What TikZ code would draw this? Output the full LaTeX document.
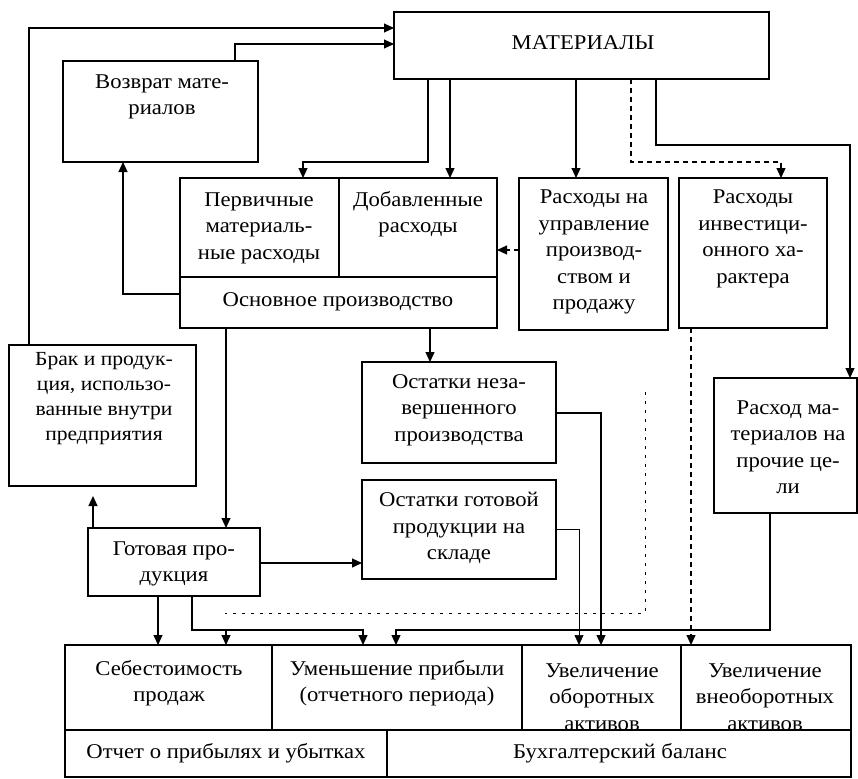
\documentclass[tikz,border=0pt]{standalone}
\usepackage{fontspec}
\setmainfont[FakeStretch=1.08]{Liberation Serif}
\usetikzlibrary{arrows.meta}
\begin{document}
\begin{tikzpicture}[x=1pt,y=-1pt,
  box/.style={draw, line width=1.2pt, rectangle, inner sep=0pt, outer sep=0pt, anchor=north west},
  txt/.style={align=center, font=\fontsize{21}{26.5}\selectfont, inner sep=0pt},
  small txt/.style={txt, font=\fontsize{20}{25}\selectfont},
  ln/.style={line width=1.2pt},
  arr/.style={ln, -{Triangle[length=10pt,width=9pt]}},
  dsh/.style={arr, dash pattern=on 5pt off 4pt},
  thin arr/.style={line width=0.7pt, -{Triangle[length=10pt,width=9pt]}},
  faint/.style={line width=0.6pt, dash pattern=on 3pt off 6pt},
]
\useasboundingbox (0,0) rectangle (858,778);
% boxes
\node[box, minimum width=375pt, minimum height=67pt] (mat) at (394,12) {};
\node[box, minimum width=195pt, minimum height=101pt] (vozv) at (63,61) {};
\node[box, minimum width=159pt, minimum height=99pt] (perv) at (180,178) {};
\node[box, minimum width=158pt, minimum height=99pt] (dob) at (339,178) {};
\node[box, minimum width=317pt, minimum height=51pt] (osn) at (180,277) {};
\node[box, minimum width=149pt, minimum height=152pt] (upr) at (519,178) {};
\node[box, minimum width=148pt, minimum height=150pt] (inv) at (679,178) {};
\node[box, minimum width=187pt, minimum height=141pt] (brak) at (9,345) {};
\node[box, minimum width=194pt, minimum height=101pt] (ostn) at (362,362) {};
\node[box, minimum width=194pt, minimum height=99pt] (ostg) at (362,480) {};
\node[box, minimum width=172pt, minimum height=68pt] (got) at (88,528) {};
\node[box, minimum width=143pt, minimum height=135pt] (proch) at (714,378) {};
\node[box, minimum width=207pt, minimum height=85pt] (seb) at (65,645) {};
\node[box, minimum width=250pt, minimum height=85pt] (umen) at (272,645) {};
\node[box, minimum width=159pt, minimum height=85pt] (uvob) at (522,645) {};
\node[box, minimum width=170pt, minimum height=85pt] (uvvn) at (681,645) {};
\node[box, minimum width=322pt, minimum height=47pt] (otch) at (65,730) {};
\node[box, minimum width=464pt, minimum height=47pt] (buh) at (387,730) {};
% texts
\node[txt] (t-mat) at (583,43) {МАТЕРИАЛЫ};
\node[txt] (t-vozv) at (162,97) {Возврат мате-\\риалов};
\node[txt] (t-perv) at (259,228) {Первичные\\материаль-\\ные расходы};
\node[txt] (t-dob) at (418,214) {Добавленные\\расходы};
\node[txt] (t-osn) at (338,302) {Основное производство};
\node[txt] (t-upr) at (594,252) {Расходы на\\управление\\производ-\\ством и\\продажу};
\node[txt] (t-inv) at (753,239) {Расходы\\инвестици-\\онного ха-\\рактера};
\node[small txt] (t-brak) at (104,399) {Брак и продук-\\ция, использо-\\ванные внутри\\предприятия};
\node[txt] (t-ostn) at (459,410) {Остатки неза-\\вершенного\\производства};
\node[txt] (t-ostg) at (459,528) {Остатки готовой\\продукции на\\складе};
\node[txt] (t-got) at (174,564) {Готовая про-\\дукция};
\node[txt] (t-proch) at (788,447) {Расход ма-\\териалов на\\прочие це-\\ли};
\node[txt] (t-seb) at (169,683) {Себестоимость\\продаж};
\node[txt] (t-umen) at (397,683) {Уменьшение прибыли\\(отчетного периода)};
\node[txt] (t-uvob) at (602,697) {Увеличение\\оборотных\\активов};
\node[txt] (t-uvvn) at (765,697) {Увеличение\\внеоборотных\\активов};
\node[txt] (t-otch) at (226,753) {Отчет о прибылях и убытках};
\node[txt] (t-buh) at (620,753) {Бухгалтерский баланс};
% junction / free points
\coordinate (j1) at (226,630);
\coordinate (f1) at (645,392);
\coordinate (f2) at (645,613);
\coordinate (f3) at (225,613);
% connectors
\draw[arr] (29,0 |- brak.north) |- (mat.west |- 0,28);
\draw[arr] (235,0 |- vozv.north) |- (mat.west |- 0,44);
\draw[arr] (osn.west |- 0,294) -| (123,0 |- vozv.south);
\draw[arr] (428,0 |- mat.south) -- (428,162) -| (303,0 |- perv.north);
\draw[arr] (450,0 |- mat.south) -- (450,0 |- dob.north);
\draw[arr] (576,0 |- mat.south) -- (576,0 |- upr.north);
\draw[dsh] (631,0 |- mat.south) -- (631,162) -| (781,0 |- inv.north);
\draw[arr] (656,0 |- mat.south) -- (656,145) -| (850,0 |- proch.north);
\draw[dsh] (upr.west |- 0,250) -- (dob.east |- 0,250);
\draw[arr] (430,0 |- osn.south) -- (430,0 |- ostn.north);
\draw[arr] (226,0 |- osn.south) -- (226,0 |- got.north);
\draw[arr, shorten >=10pt] (93,0 |- got.north) -- (93,0 |- brak.south);
\draw[arr] (got.east |- 0,563) -- (ostg.west |- 0,563);
\draw[arr] (ostn.east |- 0,413) -| (601,0 |- uvob.north);
\draw[thin arr] (ostg.east |- 0,529) -| (579,0 |- uvob.north);
\draw[dsh] (691,0 |- inv.south) -- (691,0 |- uvvn.north);
\draw[arr] (158,0 |- got.south) -- (158,0 |- seb.north);
\draw[arr] (192,0 |- got.south) |- (363,630) -- (363,0 |- umen.north);
\draw[arr] (j1) -- (j1 |- seb.north);
\draw[arr] (770,0 |- proch.south) |- (396,630) -- (396,0 |- umen.north);
\draw[faint] (f1) -- (f2) -- (f3);
\end{tikzpicture}
\end{document}
